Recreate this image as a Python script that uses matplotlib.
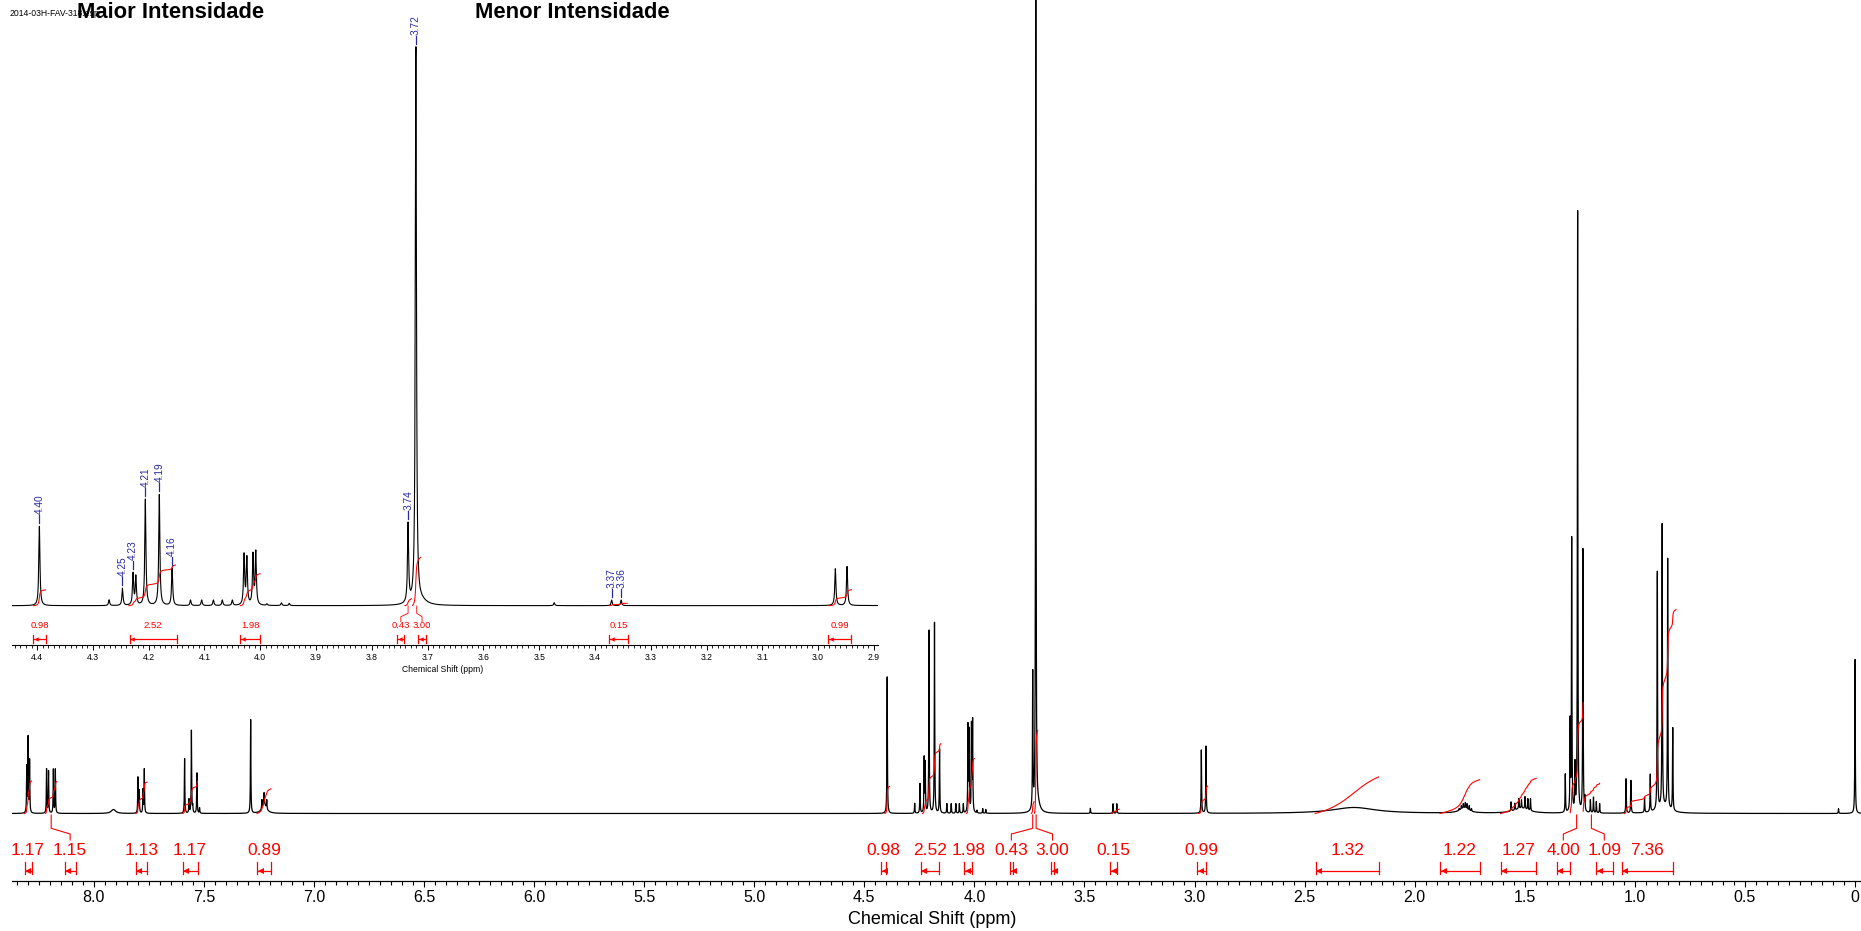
import numpy as np
import matplotlib
matplotlib.use("Agg")
import matplotlib.pyplot as plt
import matplotlib.transforms as mtransforms
from matplotlib.ticker import MultipleLocator

plt.rcParams['font.family'] = ['Liberation Sans', 'DejaVu Sans']

# ---------------- data ----------------
# sharp lines: position (ppm) and apparent height (main-plot pixel units)
sharp_ppm = [8.304, 8.298, 8.291, 8.214, 8.205, 8.183, 8.174,
             7.799, 7.793, 7.776, 7.770,
             7.587, 7.567, 7.556, 7.550, 7.531, 7.519,
             7.287, 7.236, 7.226, 7.214,
             4.396, 4.271, 4.247, 4.228, 4.223, 4.206, 4.181, 4.158,
             4.125, 4.105, 4.084, 4.068, 4.050,
             4.029, 4.024, 4.013, 4.008, 3.988, 3.962, 3.948,
             3.751, 3.735, 3.721, 3.473, 3.370, 3.353, 2.969, 2.948,
             1.798, 1.788, 1.779, 1.770, 1.762, 1.752, 1.742,
             1.562, 1.545, 1.527, 1.515, 1.499, 1.486, 1.474,
             1.316, 1.294, 1.287, 1.272, 1.260, 1.236, 1.227,
             1.202, 1.188, 1.175, 1.160,
             1.040, 1.018, 0.956, 0.930, 0.898, 0.876, 0.851, 0.828,
             0.075, 0.000]
sharp_height = [49, 78, 55, 45, 43, 45, 45,
                37, 24, 25, 45,
                55, 15, 84, 10, 41, 6,
                94, 14, 21, 14,
                137.6, 10.3, 30.4, 58, 53.3, 183.5, 192.6, 65,
                10, 10, 10, 10, 10,
                91, 87, 93, 96, 3.4, 5, 4,
                3, 144, 968, 5.2, 9.8, 9.8, 64, 68,
                5, 8, 10, 11, 10, 8, 5,
                11.7, 10.3, 15, 13.7, 17, 15, 15,
                40, 98, 277, 54, 603, 265, 19,
                14, 16.5, 12, 10,
                35, 33.4, 16.5, 39.5, 244, 290, 257, 86,
                4.8, 154]
# broad features
broad_ppm = [7.910, 7.225, 3.712, 2.276, 1.775, 1.515, 0.870]
broad_height = [4, 9, 8, 6, 5, 5, 7]
broad_hwhm = [0.012, 0.012, 0.012, 0.12, 0.025, 0.04, 0.03]

# integrals
int_values = [1.17, 1.15, 1.13, 1.17, 0.89, 0.98, 2.52, 1.98, 0.43, 3.00,
              0.15, 0.99, 1.32, 1.22, 1.27, 4.00, 1.09, 7.36]
int_start = [8.314, 8.218, 7.809, 7.596, 7.258, 4.407, 4.236, 4.036, 3.741, 3.727,
             3.375, 2.981, 2.452, 1.885, 1.610, 1.294, 1.235, 1.048]
int_end = [8.282, 8.168, 7.757, 7.528, 7.195, 4.385, 4.152, 4.000, 3.729, 3.712,
           3.342, 2.940, 2.164, 1.705, 1.448, 1.235, 1.160, 0.813]
main_label_ppm = [8.298, 8.107, 7.783, 7.562, 7.227, 4.412, 4.202, 4.028, 3.832, 3.645,
                  3.368, 2.967, 2.306, 1.795, 1.529, 1.325, 1.139, 0.943]
main_connector = [False, True, False, False, False, False, False, False, True, True,
                  False, False, False, False, False, True, True, False]
inset_int_index = [5, 6, 7, 8, 9, 10, 11]
inset_label_ppm = [4.396, 4.192, 4.018, 3.748, 3.710, 3.358, 2.961]
inset_connector = [False, False, False, True, True, False, False]

peak_label_text = ['4.40', '4.25', '4.23', '4.21', '4.19', '4.16', '3.74', '3.72', '3.37', '3.36']
peak_label_ppm = [4.396, 4.247, 4.228, 4.206, 4.181, 4.158, 3.735, 3.721, 3.370, 3.353]

main_tick_values = [8.0, 7.5, 7.0, 6.5, 6.0, 5.5, 5.0, 4.5, 4.0, 3.5, 3.0, 2.5, 2.0, 1.5, 1.0, 0.5, 0.0]
main_tick_labels = ['8.0', '7.5', '7.0', '6.5', '6.0', '5.5', '5.0', '4.5', '4.0', '3.5',
                    '3.0', '2.5', '2.0', '1.5', '1.0', '0.5', '0']
inset_tick_values = [4.4, 4.3, 4.2, 4.1, 4.0, 3.9, 3.8, 3.7, 3.6, 3.5, 3.4, 3.3, 3.2, 3.1, 3.0, 2.9]
inset_tick_labels = ['4.4', '4.3', '4.2', '4.1', '4.0', '3.9', '3.8', '3.7', '3.6', '3.5',
                     '3.4', '3.3', '3.2', '3.1', '3.0', '2.9']

# ---------------- spectrum from the peak table ----------------
HW = 0.0012
x = np.arange(-0.03, 8.38, 0.0003)
sp = np.array(sharp_ppm)
st = np.array(sharp_height, dtype=float)


def lor(xx, p, h, w):
    return h * w * w / ((xx - p) ** 2 + w * w)


broad_at_sharp = np.zeros_like(sp)
ybroad = np.zeros_like(x)
for p, h, w in zip(broad_ppm, broad_height, broad_hwhm):
    broad_at_sharp += lor(sp, p, h, w)
    ybroad += lor(x, p, h, w)
A = HW ** 2 / ((sp[:, None] - sp[None, :]) ** 2 + HW ** 2)
amp = np.clip(np.linalg.solve(A, st - broad_at_sharp), 0, None)
y = ybroad.copy()
for p, h in zip(sp, amp):
    y += lor(x, p, h, HW)

K = 27.7  # integral height per unit


def integral_curve(s, e, v):
    m = (x <= s) & (x >= e)
    xs = x[m][::-1]
    ys = y[m][::-1]
    c = np.cumsum(ys)
    c = c / c[-1] * v * K
    return xs, c


# ---------------- figure ----------------
W, H = 1861, 931
fig = plt.figure(figsize=(W / 100, H / 100), dpi=100)


def fy(py):
    return 1 - py / H


RED = '#ff0000'
BLUE = '#2a2a9e'

# main axes
ax = fig.add_axes([12 / W, (H - 881) / H, (W - 12) / W, 881 / H])
ax.set_facecolor('none')
ax.plot(x, y, color='black', lw=0.9)
ax.set_xlim(8.371, -0.027)
ax.set_ylim(-67.5, 813.5)
for s in ['top', 'left', 'right']:
    ax.spines[s].set_visible(False)
ax.spines['bottom'].set_linewidth(0.9)
ax.set_yticks([])
ax.set_xticks(main_tick_values)
ax.set_xticklabels(main_tick_labels)
ax.xaxis.set_minor_locator(MultipleLocator(0.05))
ax.tick_params(axis='x', which='major', length=4.6, width=0.8, pad=2.0, labelsize=11.5)
ax.tick_params(axis='x', which='minor', length=3.0, width=0.8)


def draw_bracket(a, center, width, yline, ylo, yhi, lw, ms):
    left = center + width / 2
    right = center - width / 2
    a.plot([left, right], [yline, yline], color=RED, lw=lw, solid_capstyle='butt')
    a.plot([left, left], [ylo, yhi], color=RED, lw=lw)
    a.plot([right, right], [ylo, yhi], color=RED, lw=lw)
    tr = mtransforms.offset_copy(a.transData, fig=fig, x=ms * 100 / 72 / 2 + 0.5, y=0, units='dots')
    a.plot([left], [yline], marker='<', color=RED, ms=ms, mew=0, transform=tr)


# main integrals, labels, brackets
for i, v in enumerate(int_values):
    xs, c = integral_curve(int_start[i], int_end[i], v)
    ax.plot(xs, c, color=RED, lw=0.8)
    lab = main_label_ppm[i]
    width = int_start[i] - int_end[i]
    ax.text(lab, -37.3, f"{v:.2f}", color=RED, fontsize=12.5, ha='center', va='center')
    draw_bracket(ax, lab, width, -57.2, -48.5, -60.5, 0.9, 4.5)
    if main_connector[i]:
        cen = 0.5 * (int_start[i] + int_end[i])
        ax.plot([cen, cen, lab, lab], [-1.5, -14.8, -20.5, -26.5], color=RED, lw=0.8)

# inset axes
R = 1.72
ax2 = fig.add_axes([11.5 / W, (H - 645) / H, 866.8 / W, 645 / H])
ax2.set_facecolor('none')
ax2.plot(x, y, color='black', lw=0.8)
ax2.set_xlim(4.446, 2.892)
ax2.set_ylim(-(645 - 605.7) * R, 605.7 * R)
for s in ['top', 'left', 'right']:
    ax2.spines[s].set_visible(False)
ax2.spines['bottom'].set_linewidth(0.8)
ax2.set_yticks([])
ax2.set_xticks(inset_tick_values)
ax2.set_xticklabels(inset_tick_labels)
ax2.xaxis.set_minor_locator(MultipleLocator(0.01))
ax2.tick_params(axis='x', which='major', length=3.4, width=0.7, pad=2.0, labelsize=6.2)
ax2.tick_params(axis='x', which='minor', length=2.4, width=0.6)

for j, i in enumerate(inset_int_index):
    v = int_values[i]
    xs, c = integral_curve(int_start[i], int_end[i], v)
    ax2.plot(xs, c, color=RED, lw=0.75)
    lab = inset_label_ppm[j]
    width = int_start[i] - int_end[i]
    ax2.text(lab, -20 * R, f"{v:.2f}", color=RED, fontsize=6.8, ha='center', va='center')
    draw_bracket(ax2, lab, width, -33.6 * R, -29.3 * R, -37.3 * R, 0.9, 3.2)
    if inset_connector[j]:
        cen = 0.5 * (int_start[i] + int_end[i])
        ax2.plot([cen, cen, lab, lab], [-0.3 * R, -7.6 * R, -11 * R, -16 * R], color=RED, lw=0.6)

# blue peak labels in the inset
for t, p in zip(peak_label_text, peak_label_ppm):
    m = (x > p - 0.003) & (x < p + 0.003)
    top = y[m].max()
    ax2.plot([p, p], [top + 3 * R, top + 11 * R], color=BLUE, lw=0.9)
    ax2.text(p, top + 12 * R, t, rotation=90, color=BLUE, fontsize=7.3,
             ha='center', va='bottom')

# texts
fig.text(931.7 / W, fy(919.5), "Chemical Shift (ppm)", fontsize=13, ha='center', va='center')
fig.text(443 / W, fy(669.3), "Chemical Shift (ppm)", fontsize=6.2, ha='center', va='center')
fig.text(9.5 / W, fy(13), "2014-03H-FAV-318.esp", fontsize=6.2, ha='left', va='center')
fig.text(77 / W, fy(18), "Maior Intensidade", fontsize=15.8, fontweight='bold',
         ha='left', va='baseline')
fig.text(475 / W, fy(18), "Menor Intensidade", fontsize=15.8, fontweight='bold',
         ha='left', va='baseline')

fig.savefig("out.png", dpi=100)
